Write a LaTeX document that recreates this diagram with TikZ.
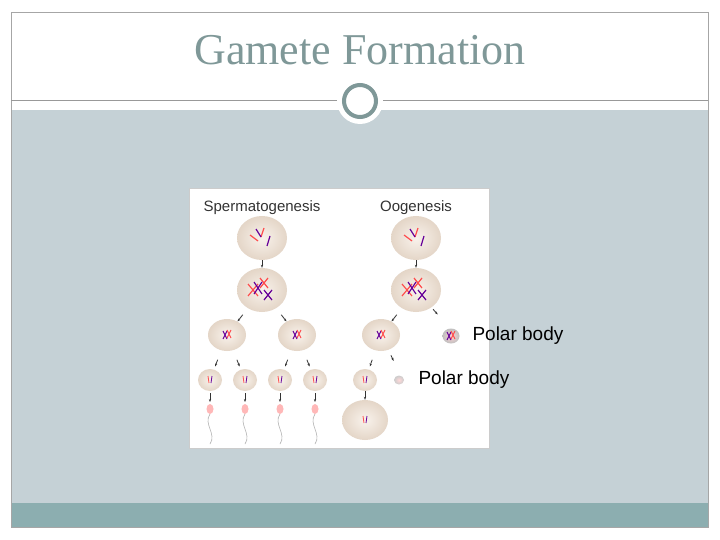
\documentclass[tikz,border=0pt]{standalone}
\usepackage{fontspec}
\usetikzlibrary{shapes.geometric,arrows.meta,calc,shadings}
\setmainfont{Liberation Serif}
\newfontfamily\arial{Liberation Sans}
\begin{document}
\begin{tikzpicture}[x=1pt,y=-1pt,
  cell/.style={ellipse,draw=none,shading=radial,inner color=white!90!brown,outer color=brown!25!white!90!gray,inner sep=0},
  arr/.style={-{Stealth[length=3pt]},line width=0.8pt,black!80},
  lbl/.style={font=\arial\fontsize{15}{17}\selectfont,text=black!80},
  pb/.style={font=\arial\fontsize{19}{21}\selectfont,anchor=west}]
\useasboundingbox (0,0) rectangle (720,540);
\fill[white] (0,0) rectangle (720,540);
\fill[white] (11,12) rectangle (708,110);
\fill[fill={rgb,255:red,197;green,209;blue,214}] (11,110) rectangle (708,503);
\fill[fill={rgb,255:red,140;green,174;blue,176}] (11,503) rectangle (708,527);
\draw[gray!70,line width=0.6pt] (11,12) rectangle (708,527);
\draw[gray!80,line width=0.6pt] (11,100) -- (708,100);
\fill[white] (360,101) circle (23);
\draw[draw={rgb,255:red,127;green,152;blue,152},line width=4pt] (360,101) circle (16);
\node[font=\fontsize{44}{48}\selectfont,text={rgb,255:red,127;green,152;blue,152}] (title) at (360,50) {Gamete Formation};
% picture
\fill[white] (189,188) rectangle (489,448);
\draw[gray!40] (189,188) rectangle (489,448);
\node[lbl] (ls) at (262,208) {Spermatogenesis};
\node[lbl] (lo) at (416,208) {Oogenesis};
\foreach \n/\x/\y/\w/\h in {s1/262/238/50/44,s2/262/290/50/44,s3/227/335/38/32,s4/297/335/38/32,
  s5/210/380/24/22,s6/245/380/24/22,s7/280/380/24/22,s8/315/380/24/22,
  o1/416/238/50/44,o2/416/290/50/44,o3/381/335/38/32,o4/365/380/24/22,o5/365/420/46/40}
  \node[cell,minimum width=\w,minimum height=\h] (\n) at (\x,\y) {};
\node[cell,minimum width=17,minimum height=15,inner color=pink!70!white,outer color=gray!50] (p1) at (451,336) {};
\node[cell,minimum width=10,minimum height=9,inner color=pink!60!white,outer color=gray!40] (p2) at (399,380) {};
% chromosomes
\foreach \c in {s1,o1}{
  \draw[red!70,line width=1.2pt] ([shift={(-12,-3)}]\c.center) -- ++(8,6);
  \draw[red!70,line width=1.2pt] ([shift={(2,-10)}]\c.center) -- ++(-3,9);
  \draw[blue!60!red,line width=1.2pt] ([shift={(-6,-9)}]\c.center) -- ++(5,8);
  \draw[blue!60!red,line width=1.2pt] ([shift={(8,-2)}]\c.center) -- ++(-3,10);}
\foreach \c in {s2,o2}{
  \draw[red!70,line width=1.2pt] ([shift={(-14,-6)}]\c.center) -- ++(10,12) ([shift={(-14,6)}]\c.center) -- ++(10,-12);
  \draw[red!70,line width=1.2pt] ([shift={(-2,-12)}]\c.center) -- ++(8,10) ([shift={(6,-12)}]\c.center) -- ++(-8,10);
  \draw[blue!60!red,line width=1.2pt] ([shift={(-8,-8)}]\c.center) -- ++(8,12) ([shift={(0,-8)}]\c.center) -- ++(-8,12);
  \draw[blue!60!red,line width=1.2pt] ([shift={(2,0)}]\c.center) -- ++(8,10) ([shift={(10,0)}]\c.center) -- ++(-8,10);}
\foreach \c in {s3,s4,o3,p1}{
  \draw[blue!60!red,line width=1pt] ([shift={(-4,-4)}]\c.center) -- ++(4,8) ([shift={(0,-4)}]\c.center) -- ++(-4,8);
  \draw[red!70,line width=1pt] ([shift={(0,-5)}]\c.center) -- ++(4,8) ([shift={(4,-5)}]\c.center) -- ++(-4,8);}
\foreach \c in {s5,s6,s7,s8,o4,o5}{
  \draw[red!70,line width=0.8pt] ([shift={(-2,-4)}]\c.center) -- ++(1,7);
  \draw[blue!60!red,line width=0.8pt] ([shift={(2,-4)}]\c.center) -- ++(-1,7);}
% arrows
\foreach \a/\b in {s1/s2,o1/o2,o4/o5}
  \draw[arr] (\a.south) -- (\b.north);
\foreach \a/\b in {s2/s3,s2/s4,s3/s5,s3/s6,s4/s7,s4/s8,o2/o3,o3/o4}
  \draw[arr] ($(\a.center)!0.55!(\b.center)$) -- ($(\a.center)!0.7!(\b.center)$);
\coordinate (o2e) at (447,325);
\draw[arr] ($(o2.center)!0.55!(o2e)$) -- ($(o2.center)!0.7!(o2e)$);
\coordinate (o3e) at (399,372);
\draw[arr] ($(o3.center)!0.55!(o3e)$) -- ($(o3.center)!0.7!(o3e)$);
% sperm
\foreach \c in {s5,s6,s7,s8}{
  \coordinate (h\c) at ([shift={(0,29)}]\c.center);
  \draw[arr] ([shift={(0,13)}]\c.center) -- ([shift={(0,22)}]\c.center);
  \fill[pink!80!red!70] (h\c) ellipse (3.5 and 5);
  \draw[gray!60,line width=0.6pt] ([shift={(0,5)}]h\c) .. controls ++(-7,10) and ++(7,-10) .. ++(0,30);}
\node[pb] (t1) at (469,336) {Polar body};
\node[pb] (t2) at (415,380) {Polar body};
\end{tikzpicture}
\end{document}
